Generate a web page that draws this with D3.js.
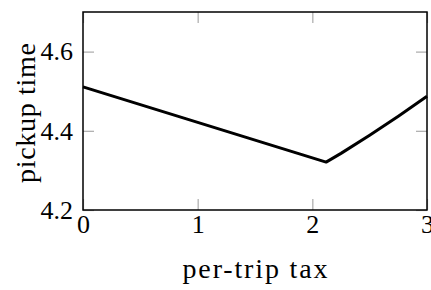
<!DOCTYPE html>
<html>
<head>
<meta charset="utf-8">
<script src="https://d3js.org/d3.v7.min.js"></script>
<style>
  body { margin: 0; background: #fff; }
  svg { display: block; }
  text { font-family: "Liberation Serif", serif; fill: #000; }
</style>
</head>
<body>
<svg id="chart" width="431" height="290"></svg>
<script>
// tax vs pickup time
const taxValues = [0, 2.12, 2.25, 2.5, 2.75, 3];
const pickupValues = [4.511, 4.321, 4.343, 4.389, 4.437, 4.487];
const xTicks = [0, 1, 2, 3];
const yTicks = [4.2, 4.4, 4.6];

const W = 431, H = 290;
const margin = { left: 83, right: 4, top: 12, bottom: 80 };
const svg = d3.select("#chart");

const x = d3.scaleLinear().domain([0, 3]).range([margin.left, W - margin.right]);
const y = d3.scaleLinear().domain([4.2, 4.7]).range([H - margin.bottom, margin.top]);

const TICK = 11;
const tickColor = "#aaa";

function styleAxis(g, showLabels) {
  g.select(".domain").remove();
  g.selectAll(".tick line").attr("stroke", tickColor).attr("stroke-width", 1.2);
  g.selectAll(".tick text").style("font-size", "26px");
  if (!showLabels) g.selectAll(".tick text").remove();
}

// bottom
svg.append("g")
  .attr("transform", `translate(0,${y(4.2)})`)
  .call(d3.axisBottom(x).tickValues(xTicks).tickSize(-TICK).tickPadding(2).tickFormat(d3.format("d")))
  .call(g => styleAxis(g, true))
  .call(g => g.selectAll(".tick text").attr("dy", "0.8em"));

// top
svg.append("g")
  .attr("transform", `translate(0,${y(4.7)})`)
  .call(d3.axisTop(x).tickValues(xTicks).tickSize(-TICK))
  .call(g => styleAxis(g, false));

// left
svg.append("g")
  .attr("transform", `translate(${x(0)},0)`)
  .call(d3.axisLeft(y).tickValues(yTicks).tickSize(-TICK).tickPadding(10).tickFormat(d3.format(".1f")))
  .call(g => styleAxis(g, true));

// right
svg.append("g")
  .attr("transform", `translate(${x(3)},0)`)
  .call(d3.axisRight(y).tickValues(yTicks).tickSize(-TICK))
  .call(g => styleAxis(g, false));

// frame
svg.append("rect")
  .attr("x", x(0)).attr("y", y(4.7))
  .attr("width", x(3) - x(0)).attr("height", y(4.2) - y(4.7))
  .attr("fill", "none").attr("stroke", "#000").attr("stroke-width", 1.5);

// line
const pts = taxValues.map((t, i) => [t, pickupValues[i]]);
svg.append("path")
  .datum(pts)
  .attr("fill", "none")
  .attr("stroke", "#000")
  .attr("stroke-width", 3)
  .attr("stroke-linejoin", "round")
  .attr("d", d3.line().x(d => x(d[0])).y(d => y(d[1])));

// axis labels
svg.append("text")
  .attr("x", (x(0) + x(3)) / 2)
  .attr("y", 278)
  .attr("text-anchor", "middle")
  .attr("textLength", 145)
  .attr("lengthAdjust", "spacing")
  .style("font-size", "28px")
  .text("per-trip tax");

svg.append("text")
  .attr("transform", `translate(35,${(y(4.2) + y(4.7)) / 2 + 2}) rotate(-90)`)
  .attr("text-anchor", "middle")
  .attr("textLength", 140)
  .attr("lengthAdjust", "spacing")
  .style("font-size", "28px")
  .text("pickup time");
</script>
</body>
</html>
